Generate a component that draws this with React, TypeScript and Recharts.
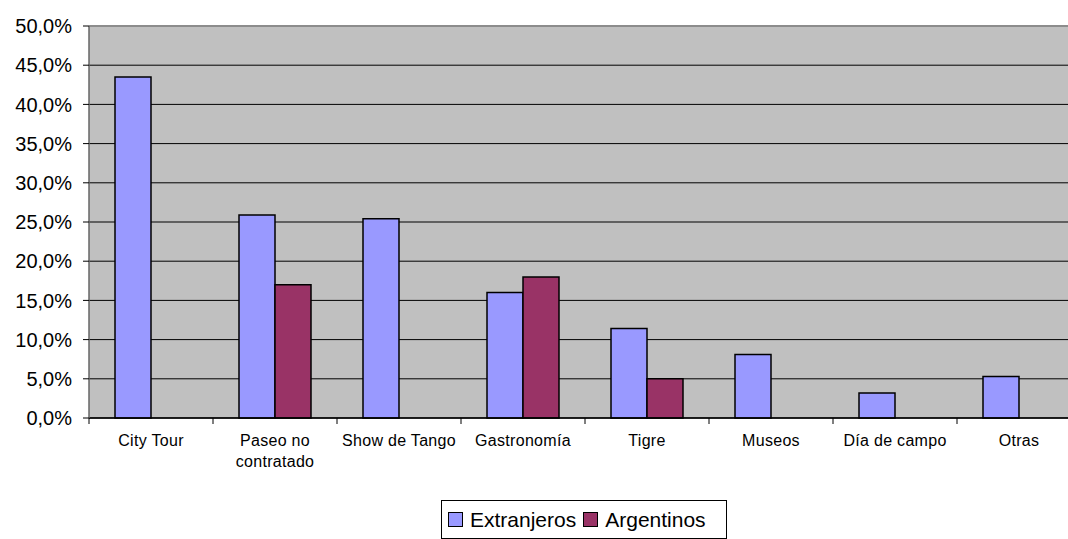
import { BarChart, Bar, XAxis, YAxis, CartesianGrid, Legend, ReferenceLine } from 'recharts';

const categories = [
  'City Tour',
  'Paseo no contratado',
  'Show de Tango',
  'Gastronomía',
  'Tigre',
  'Museos',
  'Día de campo',
  'Otras',
];
const extranjeros = [43.5, 25.9, 25.4, 16.0, 11.4, 8.1, 3.2, 5.3];
const argentinos = [null, 17.0, null, 18.0, 5.0, null, null, null];
const yTicks = [0, 5, 10, 15, 20, 25, 30, 35, 40, 45, 50];

const FONT = '"Liberation Sans", Arial, sans-serif';
const PLOT_WIDTH = 992;
const BAND = PLOT_WIDTH / categories.length;

const chartData = categories.map((name, i) => ({
  name,
  extranjeros: extranjeros[i],
  argentinos: argentinos[i],
}));

const formatPct = (v: number) => `${v.toFixed(1).replace('.', ',')}%`;

function wrapLabel(text: string, maxChars = 14) {
  const words = text.split(' ');
  const lines: string[] = [];
  let line = '';
  words.forEach((w) => {
    const next = line ? `${line} ${w}` : w;
    if (next.length > maxChars && line) {
      lines.push(line);
      line = w;
    } else {
      line = next;
    }
  });
  if (line) lines.push(line);
  return lines;
}

function CategoryTick(props: any) {
  const { x, y, payload, index } = props;
  const lines = wrapLabel(payload.value);
  const last = index === categories.length - 1;
  return (
    <g>
      <line x1={x - BAND / 2} y1={y} x2={x - BAND / 2} y2={y + 6} stroke="#000" />
      {last && <line x1={x + BAND / 2} y1={y} x2={x + BAND / 2} y2={y + 6} stroke="#000" />}
      <text
        x={x}
        y={y}
        textAnchor="middle"
        fontSize={16}
        fontFamily={FONT}
        fill="#000"
        letterSpacing={0.3}
      >
        {lines.map((l, i) => (
          <tspan key={i} x={x} dy={i === 0 ? 28 : 21}>
            {l}
          </tspan>
        ))}
      </text>
    </g>
  );
}

function LegendBox() {
  const items = [
    { label: 'Extranjeros', color: '#9999FF' },
    { label: 'Argentinos', color: '#993366' },
  ];
  return (
    <div
      style={{
        boxSizing: 'border-box',
        width: 286,
        height: 39,
        border: '1px solid #000',
        background: '#fff',
        display: 'flex',
        alignItems: 'center',
        paddingLeft: 6,
        fontFamily: FONT,
        fontSize: 21,
        color: '#000',
      }}
    >
      {items.map((it) => (
        <span key={it.label} style={{ display: 'flex', alignItems: 'center', marginRight: 7 }}>
          <span
            style={{
              display: 'inline-block',
              width: 13,
              height: 13,
              background: it.color,
              border: '1px solid #000',
              marginRight: 7,
            }}
          />
          {it.label}
        </span>
      ))}
    </div>
  );
}

export default function App() {
  return (
    <div style={{ width: 1068, height: 539, overflow: 'hidden', background: '#fff' }}>
      <style>{'body{margin:0}'}</style>
      <BarChart
        width={1081}
        height={539}
        data={chartData}
        margin={{ top: 26, right: 0, left: 0, bottom: 81 }}
        barSize={36}
        barGap={0}
      >
        <CartesianGrid vertical={false} stroke="#000" fill="#C0C0C0" fillOpacity={1} />
        <XAxis
          dataKey="name"
          height={40}
          interval={0}
          tickLine={false}
          tickSize={0}
          tickMargin={0}
          axisLine={{ stroke: '#000', strokeWidth: 1.5 }}
          tick={<CategoryTick />}
        />
        <YAxis
          width={89}
          domain={[0, 50]}
          ticks={yTicks}
          interval={0}
          tickFormatter={formatPct}
          tickSize={6}
          tickMargin={11}
          tickLine={{ stroke: '#000' }}
          axisLine={{ stroke: '#666', strokeWidth: 1.5 }}
          tick={{ fontSize: 20, fontFamily: FONT, fill: '#000' }}
        />
        <ReferenceLine y={50} stroke="#8c8c8c" strokeWidth={2} />
        <Legend
          layout="horizontal"
          verticalAlign="middle"
          align="center"
          wrapperStyle={{ left: 441, top: 500, width: 286, height: 39 }}
          content={<LegendBox />}
        />
        <Bar
          dataKey="extranjeros"
          name="Extranjeros"
          fill="#9999FF"
          stroke="#000"
          strokeWidth={1.5}
          isAnimationActive={false}
        />
        <Bar
          dataKey="argentinos"
          name="Argentinos"
          fill="#993366"
          stroke="#000"
          strokeWidth={1.5}
          isAnimationActive={false}
        />
      </BarChart>
    </div>
  );
}
